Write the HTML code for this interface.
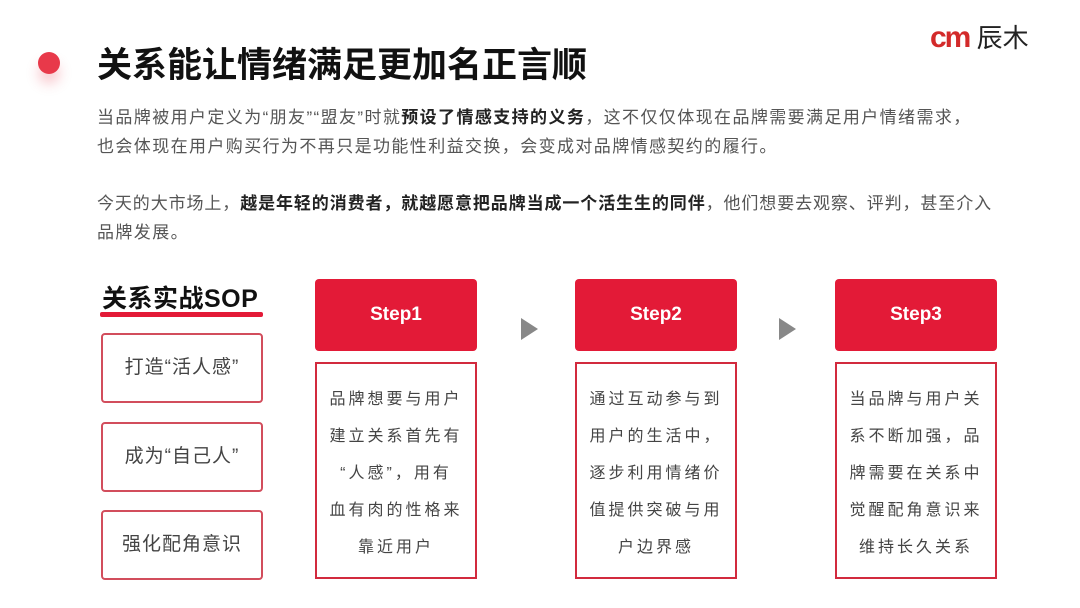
<!DOCTYPE html>
<html><head><meta charset="utf-8"><style>
*{margin:0;padding:0;box-sizing:border-box}
body{width:1080px;height:608px;background:#fff;position:relative;overflow:hidden;font-family:"Liberation Sans","Noto Sans CJK SC",sans-serif}
.a{position:absolute}
.dot{left:38px;top:52px;width:22px;height:22px;border-radius:50%;background:#e8394a;box-shadow:0 10px 12px rgba(232,57,74,.25)}
.title{left:97px;top:37px;font-size:35px;font-weight:bold;color:#111;letter-spacing:0;white-space:nowrap}
.logo{left:930px;top:18px;font-size:26px;color:#222;white-space:nowrap}
.p{left:97px;font-size:17px;color:#555;white-space:nowrap;letter-spacing:1.4px}
.p b{color:#222}
.sop{left:102px;top:279px;font-size:25px;font-weight:bold;color:#111;white-space:nowrap;letter-spacing:.5px}
.ul{left:100px;top:312px;width:163px;height:5px;background:#e31a37;border-radius:2px}
.lb{left:101px;width:162px;height:70px;border:2px solid #d24d5c;border-radius:4px;font-size:19px;color:#444;text-align:center;line-height:66px;letter-spacing:1px}
.hd{top:279px;width:162px;height:72px;background:#e31a37;border-radius:4px;color:#fff;font-size:19px;font-weight:bold;text-align:center;line-height:72px}
.bd{top:362px;width:162px;height:217px;border:2px solid #d22a3e;color:#444;font-size:16px;letter-spacing:3px;text-align:center;line-height:37px;padding-top:17px}
.ar{top:318px;width:0;height:0;border-top:11px solid transparent;border-bottom:11px solid transparent;border-left:17px solid #888}
</style></head><body>
<div class="a dot"></div>
<div class="a title">关系能让情绪满足更加名正言顺</div>
<div class="a logo"><span style="color:#d32a2a;font-weight:bold;font-size:30px;letter-spacing:-2px">cm</span> 辰木</div>
<div class="a p" style="top:103px">当品牌被用户定义为“朋友”“盟友”时就<b>预设了情感支持的义务</b>，这不仅仅体现在品牌需要满足用户情绪需求，</div>
<div class="a p" style="top:132px">也会体现在用户购买行为不再只是功能性利益交换，会变成对品牌情感契约的履行。</div>
<div class="a p" style="top:189px;letter-spacing:.9px">今天的大市场上，<b>越是年轻的消费者，就越愿意把品牌当成一个活生生的同伴</b>，他们想要去观察、评判，甚至介入</div>
<div class="a p" style="top:218px">品牌发展。</div>
<div class="a sop">关系实战SOP</div>
<div class="a ul"></div>
<div class="a lb" style="top:333px">打造“活人感”</div>
<div class="a lb" style="top:422px">成为“自己人”</div>
<div class="a lb" style="top:510px">强化配角意识</div>
<div class="a hd" style="left:315px">Step1</div>
<div class="a hd" style="left:575px">Step2</div>
<div class="a hd" style="left:835px">Step3</div>
<div class="a ar" style="left:521px"></div>
<div class="a ar" style="left:779px"></div>
<div class="a bd" style="left:315px">品牌想要与用户<br>建立关系首先有<br>“人感”，用有<br>血有肉的性格来<br>靠近用户</div>
<div class="a bd" style="left:575px">通过互动参与到<br>用户的生活中，<br>逐步利用情绪价<br>值提供突破与用<br>户边界感</div>
<div class="a bd" style="left:835px">当品牌与用户关<br>系不断加强，品<br>牌需要在关系中<br>觉醒配角意识来<br>维持长久关系</div>
</body></html>
